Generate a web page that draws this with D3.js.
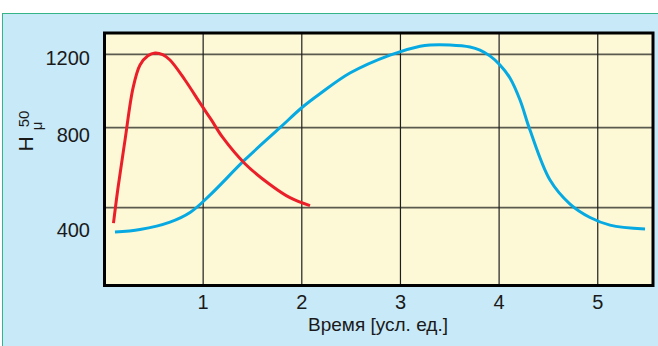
<!DOCTYPE html>
<html><head><meta charset="utf-8">
<script src="https://cdn.jsdelivr.net/npm/d3@7"></script>
<style>html,body{margin:0;padding:0;background:#fff;}svg{display:block;}</style>
</head><body>
<svg id="c" width="658" height="346"></svg>
<script>
// ---- data ----
const xTicks = [1, 2, 3, 4, 5];
const yTicks = [400, 800, 1200];
const xTitle = "Время [усл. ед.]";

const redX = [0.091, 0.137, 0.208, 0.289, 0.360, 0.440, 0.512, 0.590, 0.664, 0.816, 0.968, 1.080, 1.200, 1.424, 1.677, 1.880, 2.083];
const redY = [323, 500, 738, 1016, 1142, 1192, 1207, 1198, 1169, 1060, 935, 845, 750, 620, 516, 450, 410];

const blueX = [0.106, 0.360, 0.664, 0.867, 1.069, 1.424, 1.779, 2.002, 2.184, 2.488, 2.894, 3.199, 3.300, 3.502, 3.705, 3.806, 3.910, 4.009, 4.110, 4.212, 4.313, 4.516, 4.719, 4.922, 5.124, 5.479];
const blueY = [278, 291, 328, 376, 463, 640, 800, 910, 985, 1098, 1196, 1244, 1251, 1251, 1240, 1223, 1190, 1142, 1071, 951, 788, 538, 418, 351, 313, 293];

// ---- layout ----
const svg = d3.select("#c");
const L = 104.5, R = 653, T = 33, B = 285.5;

const x = d3.scaleLinear().domain([0, 5.56]).range([L, R]);
const y = d3.scaleLinear().domain([400, 800, 1200]).range([207.7, 127.7, 54.3]);
const yLab = d3.scaleLinear().domain([400, 800, 1200]).range([229.5, 134.5, 58]);

// panel
svg.append("rect").attr("x", 2.5).attr("y", 13.5).attr("width", 660).attr("height", 340)
  .attr("fill", "#c7e9f8").attr("stroke", "#35b487").attr("stroke-width", 1);

// plot area
svg.append("rect").attr("x", L).attr("y", T).attr("width", R - L).attr("height", B - T)
  .attr("fill", "#fdf9d6");

// grid
svg.append("g").selectAll("line").data(yTicks).join("line")
  .attr("x1", L).attr("x2", R).attr("y1", d => y(d)).attr("y2", d => y(d))
  .attr("stroke", "#5a5a4e").attr("stroke-width", 1.8);
svg.append("g").selectAll("line").data(xTicks).join("line")
  .attr("y1", T).attr("y2", B).attr("x1", d => x(d)).attr("x2", d => x(d))
  .attr("stroke", "#1e1e1e").attr("stroke-width", 1.2);

// curves
const line = d3.line().x(d => x(d[0])).y(d => y(d[1])).curve(d3.curveCatmullRom.alpha(0.5));
svg.append("path").datum(blueX.map((v, i) => [v, blueY[i]]))
  .attr("d", line).attr("fill", "none").attr("stroke", "#07a9e2").attr("stroke-width", 3);
svg.append("path").datum(redX.map((v, i) => [v, redY[i]]))
  .attr("d", line).attr("fill", "none").attr("stroke", "#ea1f29").attr("stroke-width", 3);

// frame
svg.append("rect").attr("x", L).attr("y", T).attr("width", R - L).attr("height", B - T)
  .attr("fill", "none").attr("stroke", "#000").attr("stroke-width", 3);

const font = "'Liberation Sans', Arial, sans-serif";

// y tick labels
svg.append("g").selectAll("text").data(yTicks).join("text")
  .attr("x", 90).attr("y", d => yLab(d)).attr("dy", "0.35em")
  .attr("text-anchor", "end").attr("font-family", font).attr("font-size", 20)
  .attr("fill", "#1a1a1a").text(d => d);

// x tick labels
svg.append("g").selectAll("text").data(xTicks).join("text")
  .attr("x", d => x(d)).attr("y", 302).attr("dy", "0.35em")
  .attr("text-anchor", "middle").attr("font-family", font).attr("font-size", 20)
  .attr("fill", "#1a1a1a").text(d => d);

// x title
svg.append("text").attr("x", 378).attr("y", 331)
  .attr("text-anchor", "middle").attr("font-family", font).attr("font-size", 19)
  .attr("fill", "#1a1a1a").text(xTitle);

// y title: H with subscript μ and superscript 50
svg.append("text").attr("transform", "translate(33,144) rotate(-90)")
  .attr("text-anchor", "middle").attr("font-family", font).attr("font-size", 21)
  .attr("fill", "#1a1a1a").text("H");
svg.append("text").attr("transform", "translate(42,126) rotate(-90)")
  .attr("text-anchor", "middle").attr("font-family", font).attr("font-size", 15)
  .attr("fill", "#1a1a1a").text("μ");
svg.append("text").attr("transform", "translate(29,119) rotate(-90)")
  .attr("text-anchor", "middle").attr("font-family", font).attr("font-size", 15)
  .attr("fill", "#1a1a1a").text("50");
</script>
</body></html>
